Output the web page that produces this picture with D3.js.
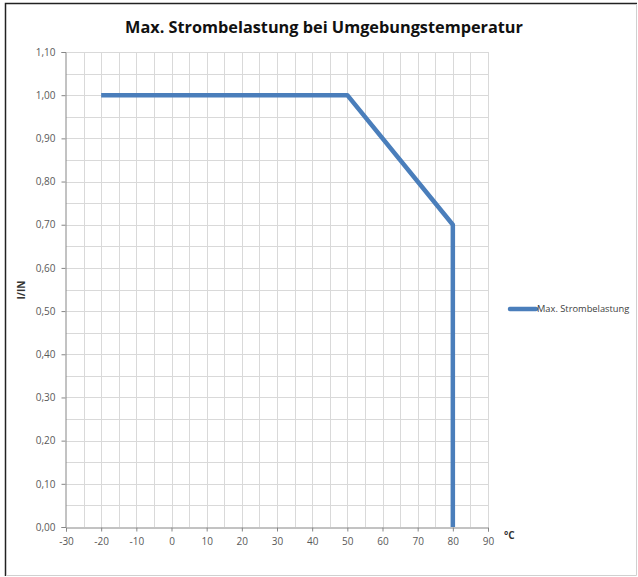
<!DOCTYPE html>
<html>
<head>
<meta charset="utf-8">
<script src="https://cdn.jsdelivr.net/npm/d3@7"></script>
<style>
  body { margin: 0; background: #fff; }
  svg { display: block; }
</style>
</head>
<body>
<div class="container"></div>
<script>
// data
var temps = [-20, 50, 80, 80];
var loads = [1.0, 1.0, 0.7, 0.0];
var seriesName = 'Max. Strombelastung';
var xTicks = d3.range(-30, 91, 10);
var yTicks = d3.range(0, 1.101, 0.1);

const width = 638, height = 577;
const plot = {left: 66, right: 488, top: 52, bottom: 527};

const svg = d3.select('.container')
  .append('svg')
  .attr('width', width)
  .attr('height', height);

// chart frame: dark top/left, light bottom/right
svg.append('path')
  .attr('d', 'M5.5,576 V3.5 H637')
  .attr('fill', 'none')
  .attr('stroke', '#222')
  .attr('stroke-width', 1.5);
svg.append('path')
  .attr('d', 'M6,575.5 H636.5 V4')
  .attr('fill', 'none')
  .attr('stroke', '#d0d0d0')
  .attr('stroke-width', 1);

const x = d3.scaleLinear().domain([-30, 90]).range([plot.left, plot.right]);
const y = d3.scaleLinear().domain([0, 1.1]).range([plot.bottom, plot.top]);

const fmt = d => d3.format('.2f')(d).replace('.', ',');

// gridlines every 5 / 0.05
const grid = svg.append('g')
  .attr('stroke', '#d9d9d9')
  .attr('stroke-width', 1)
  .attr('shape-rendering', 'crispEdges');

grid.selectAll('line.v')
  .data(d3.range(-25, 91, 5))
  .join('line')
  .attr('x1', d => Math.round(x(d)) + 0.5).attr('x2', d => Math.round(x(d)) + 0.5)
  .attr('y1', plot.top).attr('y2', plot.bottom);

grid.selectAll('line.h')
  .data(d3.range(1, 23).map(i => i * 0.05))
  .join('line')
  .attr('y1', d => Math.round(y(d)) + 0.5).attr('y2', d => Math.round(y(d)) + 0.5)
  .attr('x1', plot.left).attr('x2', plot.right);

// axes
const xAxis = svg.append('g')
  .attr('transform', 'translate(0,' + (plot.bottom + 0.5) + ')')
  .call(d3.axisBottom(x).tickValues(xTicks).tickSize(4).tickPadding(6).tickFormat(d => String(d)));

const yAxis = svg.append('g')
  .attr('transform', 'translate(' + (plot.left - 0.5) + ',0)')
  .call(d3.axisLeft(y).tickValues(yTicks).tickSize(4).tickPadding(6).tickFormat(fmt));

[xAxis, yAxis].forEach(a => {
  a.select('.domain').attr('stroke', '#868686');
  a.selectAll('.tick line').attr('stroke', '#868686');
  a.selectAll('.tick text')
    .attr('fill', '#595959')
    .attr('font-family', 'Open Sans, sans-serif')
    .attr('font-size', 10);
});

// series
const line = d3.line().x((d, i) => x(temps[i])).y(d => y(d));
svg.append('path')
  .datum(loads)
  .attr('fill', 'none')
  .attr('stroke', '#4a7ebb')
  .attr('stroke-width', 4.5)
  .attr('stroke-linejoin', 'round')
  .attr('d', line);

// title
svg.append('text')
  .attr('x', 324).attr('y', 33)
  .attr('text-anchor', 'middle')
  .attr('font-family', 'Open Sans, sans-serif')
  .attr('font-weight', 'bold')
  .attr('font-size', 16.3)
  .attr('fill', '#111')
  .text('Max. Strombelastung bei Umgebungstemperatur');

// axis titles
svg.append('text')
  .attr('transform', 'translate(25,290) rotate(-90)')
  .attr('text-anchor', 'middle')
  .attr('font-family', 'Open Sans, sans-serif')
  .attr('font-weight', 'bold')
  .attr('font-size', 10)
  .attr('fill', '#333')
  .text('I/IN');

svg.append('text')
  .attr('x', 504).attr('y', 539)
  .attr('font-family', 'Open Sans, sans-serif')
  .attr('font-weight', 'bold')
  .attr('font-size', 10)
  .attr('fill', '#333')
  .text('°C');

// legend
const legend = svg.append('g').attr('transform', 'translate(510,309)');
legend.append('line')
  .attr('x1', 0).attr('x2', 26)
  .attr('stroke', '#4a7ebb')
  .attr('stroke-width', 4.5)
  .attr('stroke-linecap', 'round');
legend.append('text')
  .attr('x', 27).attr('dy', '0.35em')
  .attr('font-family', 'Open Sans, sans-serif')
  .attr('font-size', 9.3)
  .attr('fill', '#404040')
  .text(seriesName);
</script>
</body>
</html>
